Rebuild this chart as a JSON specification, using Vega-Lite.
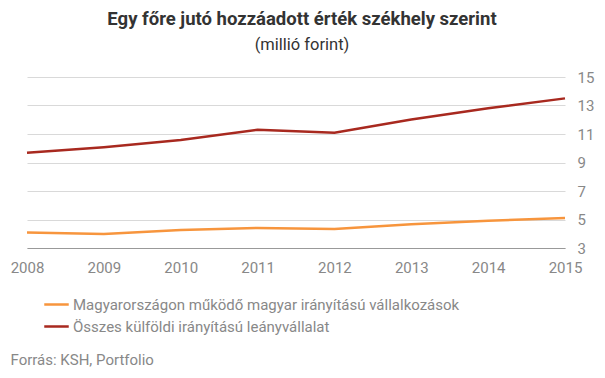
{
  "$schema": "https://vega.github.io/schema/vega-lite/v6.json",
  "autosize": "none",
  "width": 538,
  "height": 171,
  "padding": {"left": 27, "top": 77, "right": 40, "bottom": 130},
  "background": "white",
  "title": {
    "text": "Egy főre jutó hozzáadott érték székhely szerint",
    "subtitle": "(millió forint)",
    "anchor": "middle",
    "dx": 6,
    "offset": 17,
    "font": "Roboto",
    "fontSize": 18.5,
    "fontWeight": "bold",
    "color": "#333333",
    "subtitleFont": "Roboto",
    "subtitleFontSize": 16.5,
    "subtitleColor": "#333333",
    "subtitlePadding": 8
  },
  "config": {
    "view": {"stroke": null},
    "font": "Roboto"
  },
  "data": {
    "values": [
      {"year": 2008, "series": "Magyarországon működő magyar irányítású vállalkozások", "value": 4.09},
      {"year": 2009, "series": "Magyarországon működő magyar irányítású vállalkozások", "value": 3.99},
      {"year": 2010, "series": "Magyarországon működő magyar irányítású vállalkozások", "value": 4.27},
      {"year": 2011, "series": "Magyarországon működő magyar irányítású vállalkozások", "value": 4.41},
      {"year": 2012, "series": "Magyarországon működő magyar irányítású vállalkozások", "value": 4.34},
      {"year": 2013, "series": "Magyarországon működő magyar irányítású vállalkozások", "value": 4.66},
      {"year": 2014, "series": "Magyarországon működő magyar irányítású vállalkozások", "value": 4.92},
      {"year": 2015, "series": "Magyarországon működő magyar irányítású vállalkozások", "value": 5.10},
      {"year": 2008, "series": "Összes külföldi irányítású leányvállalat", "value": 9.68},
      {"year": 2009, "series": "Összes külföldi irányítású leányvállalat", "value": 10.07},
      {"year": 2010, "series": "Összes külföldi irányítású leányvállalat", "value": 10.58},
      {"year": 2011, "series": "Összes külföldi irányítású leányvállalat", "value": 11.30},
      {"year": 2012, "series": "Összes külföldi irányítású leányvállalat", "value": 11.09},
      {"year": 2013, "series": "Összes külföldi irányítású leányvállalat", "value": 12.02},
      {"year": 2014, "series": "Összes külföldi irányítású leányvállalat", "value": 12.80},
      {"year": 2015, "series": "Összes külföldi irányítású leányvállalat", "value": 13.50}
    ]
  },
  "mark": {"type": "line", "strokeWidth": 2.5},
  "encoding": {
    "x": {
      "field": "year",
      "type": "quantitative",
      "scale": {"domain": [2008, 2015], "nice": false, "zero": false},
      "axis": {
        "values": [2008, 2009, 2010, 2011, 2012, 2013, 2014, 2015],
        "format": "d",
        "grid": false,
        "ticks": false,
        "domain": true,
        "domainColor": "#999999",
        "domainWidth": 1,
        "labelColor": "#888888",
        "labelFontSize": 15,
        "labelPadding": 12,
        "labelFlush": false,
        "title": "Forrás: KSH, Portfolio",
        "titleAnchor": "start",
        "titleAlign": "left",
        "titleX": -17,
        "titleY": 116,
        "titleBaseline": "alphabetic",
        "titleFontSize": 15,
        "titleFontWeight": "normal",
        "titleColor": "#888888"
      }
    },
    "y": {
      "field": "value",
      "type": "quantitative",
      "scale": {"domain": [3, 15], "nice": false, "zero": false},
      "axis": {
        "orient": "right",
        "values": [3, 5, 7, 9, 11, 13, 15],
        "grid": true,
        "gridColor": "#d9d9d9",
        "gridWidth": 1,
        "ticks": false,
        "domain": false,
        "labelColor": "#888888",
        "labelFontSize": 15,
        "labelPadding": 12,
        "title": null
      }
    },
    "color": {
      "field": "series",
      "type": "nominal",
      "scale": {
        "domain": ["Magyarországon működő magyar irányítású vállalkozások", "Összes külföldi irányítású leányvállalat"],
        "range": ["#F7953D", "#A8291F"]
      },
      "legend": {
        "orient": "none",
        "legendX": 16,
        "legendY": 214,
        "title": null,
        "direction": "vertical",
        "symbolType": "stroke",
        "symbolSize": 600,
        "symbolStrokeWidth": 2.5,
        "labelFontSize": 15,
        "labelColor": "#888888",
        "labelOffset": 3,
        "rowPadding": 0,
        "labelLimit": 500
      }
    }
  }
}
